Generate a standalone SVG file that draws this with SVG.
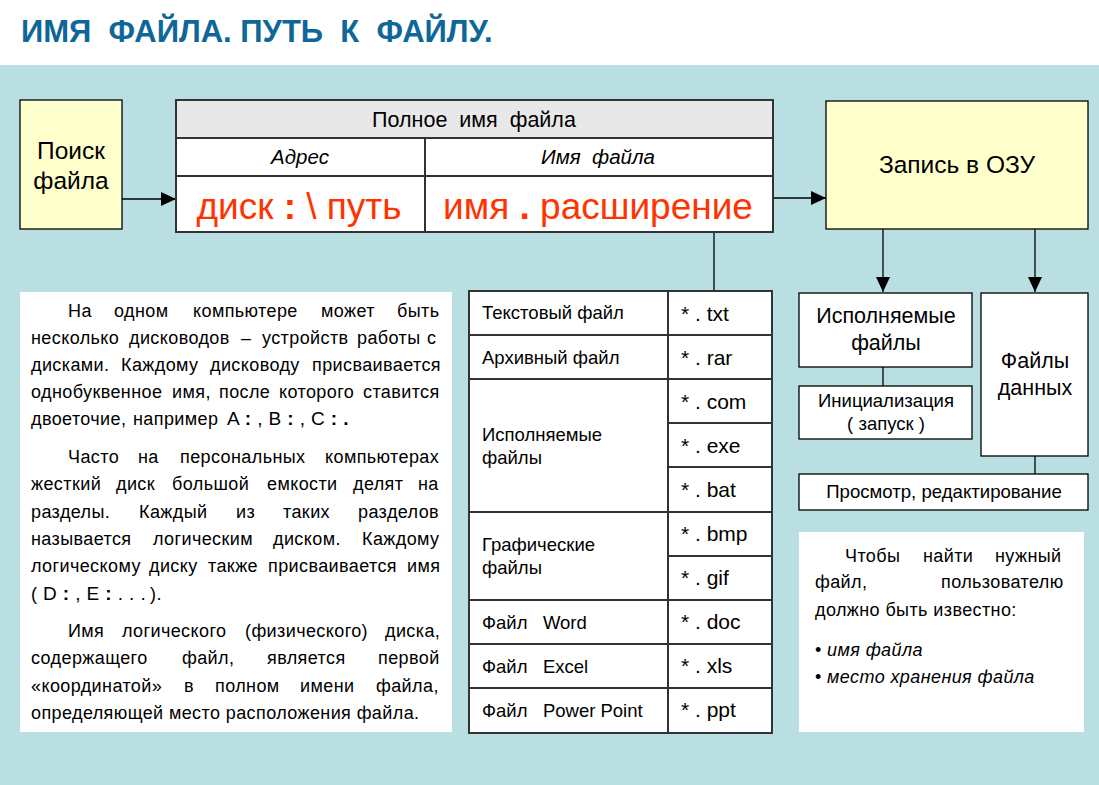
<svg xmlns="http://www.w3.org/2000/svg" width="1099" height="785" viewBox="0 0 1099 785">
<style>
text { font-family: "Liberation Sans", Arial, sans-serif; fill: #000; }
.box { stroke: #000; stroke-width: 1.3; }
.yel { fill: #FFFFCC; }
.wht { fill: #FFFFFF; }
.tbl { fill: none; stroke: #333; stroke-width: 2; }
.grid { stroke: #333; stroke-width: 2; }
.conn { stroke: #000; stroke-width: 1.3; fill: none; }
.red { fill: #FF3300; font-size: 37px; }
.body { font-size: 18px; letter-spacing: 0.4px; }
.cell { font-size: 18.5px; }
.ext { font-size: 21px; }
.mid { text-anchor: middle; }
.it { font-style: italic; }
.b { font-weight: bold; }
</style>
<defs>
<marker id="ah" markerUnits="userSpaceOnUse" markerWidth="15" markerHeight="14" refX="15" refY="7" orient="auto">
<path d="M0,0 L15,7 L0,14 z" fill="#000"/>
</marker>
</defs>

<rect x="0" y="0" width="1099" height="785" fill="#FFFFFF"/>
<rect x="0" y="65" width="1099" height="720" fill="#B9DFE2"/>

<g id="title">
<text x="21" y="42" font-size="31" font-weight="bold" style="fill:#0E6699" xml:space="preserve">ИМЯ  ФАЙЛА. ПУТЬ  К  ФАЙЛУ.</text>
</g>

<g id="connectors">
<line class="conn" x1="122" y1="199" x2="176" y2="199" marker-end="url(#ah)"/>
<line class="conn" x1="773" y1="198" x2="826" y2="198" marker-end="url(#ah)"/>
<line class="conn" x1="883" y1="229" x2="883" y2="292" marker-end="url(#ah)"/>
<line class="conn" x1="1035" y1="229" x2="1035" y2="292" marker-end="url(#ah)"/>
<line class="conn" x1="714" y1="232" x2="714" y2="291"/>
<line class="conn" x1="883" y1="367" x2="883" y2="386"/>
<line class="conn" x1="1035" y1="456" x2="1035" y2="474"/>
</g>

<g id="search">
<rect class="box yel" x="20" y="100" width="102" height="129"/>
<text class="mid" x="71" y="159" font-size="24.5">Поиск</text>
<text class="mid" x="71" y="189" font-size="24.5">файла</text>
</g>

<g id="full-name">
<rect x="176" y="100" width="597" height="132" fill="#FFFFFF"/>
<rect x="176" y="100" width="597" height="38" fill="#E8E8E8"/>
<line class="grid" x1="176" y1="138" x2="773" y2="138"/>
<line class="grid" x1="176" y1="176" x2="773" y2="176"/>
<line class="grid" x1="425" y1="138" x2="425" y2="232"/>
<rect class="tbl" x="176" y="100" width="597" height="132"/>
<text class="mid" x="474" y="127" font-size="21.5" xml:space="preserve">Полное  имя  файла</text>
<text class="mid it" x="300" y="164" font-size="20.5">Адрес</text>
<text class="mid it" x="598" y="164" font-size="20.5" xml:space="preserve">Имя  файла</text>
<text class="mid red" x="299" y="219" xml:space="preserve">диск <tspan class="b">:</tspan> \ путь</text>
<text class="mid red" x="598" y="219" xml:space="preserve">имя <tspan class="b">.</tspan> расширение</text>
</g>

<g id="ram">
<rect class="box yel" x="826" y="101" width="262" height="128"/>
<text class="mid" x="957" y="173" font-size="24.5">Запись в ОЗУ</text>
</g>

<g id="exec-files">
<rect class="box wht" x="799" y="293" width="173" height="74"/>
<text class="mid" x="886" y="323" font-size="21.5">Исполняемые</text>
<text class="mid" x="886" y="350" font-size="21.5">файлы</text>
</g>

<g id="init">
<rect class="box wht" x="799" y="386" width="173" height="53"/>
<text class="mid" x="886" y="407" font-size="18.5">Инициализация</text>
<text class="mid" x="886" y="430" font-size="18.5" xml:space="preserve">( запуск )</text>
</g>

<g id="data-files">
<rect class="box wht" x="981" y="293" width="107" height="163"/>
<text class="mid" x="1035" y="368" font-size="21.5">Файлы</text>
<text class="mid" x="1035" y="395" font-size="21.5">данных</text>
</g>

<g id="view-edit">
<rect class="box wht" x="799" y="474" width="289" height="36"/>
<text class="mid" x="944" y="498" font-size="18.6">Просмотр, редактирование</text>
</g>

<g id="file-types">
<rect x="469" y="291" width="303" height="442" fill="#FFFFFF"/>
<line class="grid" x1="668" y1="291" x2="668" y2="733"/>
<line class="grid" x1="469" y1="335" x2="772" y2="335"/>
<line class="grid" x1="469" y1="379" x2="772" y2="379"/>
<line class="grid" x1="668" y1="423" x2="772" y2="423"/>
<line class="grid" x1="668" y1="467" x2="772" y2="467"/>
<line class="grid" x1="469" y1="512" x2="772" y2="512"/>
<line class="grid" x1="668" y1="556" x2="772" y2="556"/>
<line class="grid" x1="469" y1="600" x2="772" y2="600"/>
<line class="grid" x1="469" y1="644" x2="772" y2="644"/>
<line class="grid" x1="469" y1="688" x2="772" y2="688"/>
<rect class="tbl" x="469" y="291" width="303" height="442"/>
<text class="cell" x="482" y="319">Текстовый файл</text>
<text class="cell" x="482" y="364">Архивный файл</text>
<text class="cell" x="482" y="441">Исполняемые</text>
<text class="cell" x="482" y="464">файлы</text>
<text class="cell" x="482" y="551">Графические</text>
<text class="cell" x="482" y="574">файлы</text>
<text class="cell" x="482" y="629" xml:space="preserve">Файл   Word</text>
<text class="cell" x="482" y="673" xml:space="preserve">Файл   Excel</text>
<text class="cell" x="482" y="717" xml:space="preserve">Файл   Power Point</text>
<text class="ext" x="681" y="321" xml:space="preserve">* . txt</text>
<text class="ext" x="681" y="365" xml:space="preserve">* . rar</text>
<text class="ext" x="681" y="409" xml:space="preserve">* . com</text>
<text class="ext" x="681" y="453" xml:space="preserve">* . exe</text>
<text class="ext" x="681" y="497" xml:space="preserve">* . bat</text>
<text class="ext" x="681" y="541" xml:space="preserve">* . bmp</text>
<text class="ext" x="681" y="585" xml:space="preserve">* . gif</text>
<text class="ext" x="681" y="629" xml:space="preserve">* . doc</text>
<text class="ext" x="681" y="673" xml:space="preserve">* . xls</text>
<text class="ext" x="681" y="717" xml:space="preserve">* . ppt</text>
</g>

<g id="disk-note">
<rect x="20" y="292" width="432" height="440" fill="#FFFFFF"/>
<text class="body" y="317"><tspan x="68">На</tspan><tspan x="114">одном</tspan><tspan x="193">компьютере</tspan><tspan x="321">может</tspan><tspan x="397">быть</tspan></text>
<text class="body" y="344"><tspan x="31">несколько</tspan><tspan x="129">дисководов</tspan><tspan x="241">–</tspan><tspan x="262">устройств</tspan><tspan x="357">работы</tspan><tspan x="427">с</tspan></text>
<text class="body" y="371"><tspan x="31">дисками.</tspan><tspan x="121">Каждому</tspan><tspan x="210">дисководу</tspan><tspan x="312">присваивается</tspan></text>
<text class="body" y="398"><tspan x="31">однобуквенное</tspan><tspan x="172">имя,</tspan><tspan x="219">после</tspan><tspan x="279">которого</tspan><tspan x="363">ставится</tspan></text>
<text class="body" y="425"><tspan x="31">двоеточие,</tspan><tspan x="133">например</tspan><tspan x="227" font-size="19" xml:space="preserve">A <tspan class="b">:</tspan> , B <tspan class="b">:</tspan> , C <tspan class="b">:</tspan> <tspan class="b">.</tspan></tspan></text>
<text class="body" y="463"><tspan x="68">Часто</tspan><tspan x="138">на</tspan><tspan x="180">персональных</tspan><tspan x="325">компьютерах</tspan></text>
<text class="body" y="490"><tspan x="31">жесткий</tspan><tspan x="116">диск</tspan><tspan x="172">большой</tspan><tspan x="267">емкости</tspan><tspan x="353">делят</tspan><tspan x="418">на</tspan></text>
<text class="body" y="518"><tspan x="31">разделы.</tspan><tspan x="139">Каждый</tspan><tspan x="236">из</tspan><tspan x="283">таких</tspan><tspan x="358">разделов</tspan></text>
<text class="body" y="545"><tspan x="31">называется</tspan><tspan x="153">логическим</tspan><tspan x="273">диском.</tspan><tspan x="362">Каждому</tspan></text>
<text class="body" y="572"><tspan x="31">логическому</tspan><tspan x="149">диску</tspan><tspan x="208">также</tspan><tspan x="268">присваивается</tspan><tspan x="407">имя</tspan></text>
<text class="body" y="600" xml:space="preserve"><tspan x="31">(</tspan><tspan x="43" font-size="19">D <tspan class="b">:</tspan> , E <tspan class="b">:</tspan> . . .</tspan><tspan x="150">).</tspan></text>
<text class="body" y="637"><tspan x="68">Имя</tspan><tspan x="122">логического</tspan><tspan x="245">(физического)</tspan><tspan x="385">диска,</tspan></text>
<text class="body" y="664"><tspan x="31">содержащего</tspan><tspan x="182">файл,</tspan><tspan x="267">является</tspan><tspan x="378">первой</tspan></text>
<text class="body" y="692"><tspan x="31">«координатой»</tspan><tspan x="184">в</tspan><tspan x="215">полном</tspan><tspan x="300">имени</tspan><tspan x="376">файла,</tspan></text>
<text class="body" x="31" y="719">определяющей место расположения файла.</text>
</g>

<g id="search-note">
<rect x="799" y="532" width="285" height="200" fill="#FFFFFF"/>
<text class="body" y="562"><tspan x="845">Чтобы</tspan><tspan x="923">найти</tspan><tspan x="995">нужный</tspan></text>
<text class="body" y="588"><tspan x="815">файл,</tspan><tspan x="941">пользователю</tspan></text>
<text class="body" x="815" y="616">должно быть известно:</text>
<text class="body" x="815" y="656">• <tspan class="it">имя файла</tspan></text>
<text class="body" x="815" y="683">• <tspan class="it">место хранения файла</tspan></text>
</g>
</svg>
